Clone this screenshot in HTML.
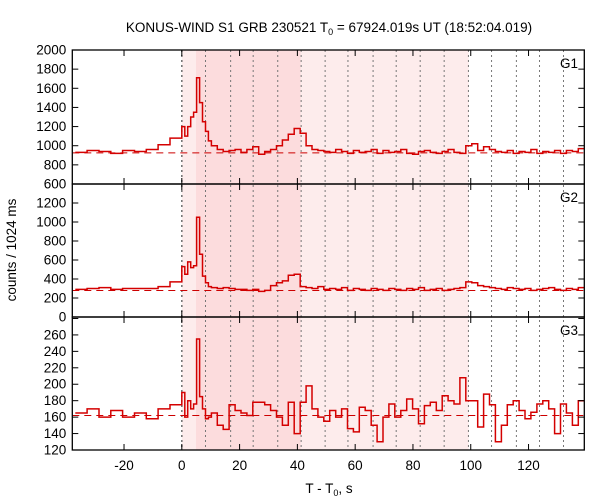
<!DOCTYPE html>
<html><head><meta charset="utf-8"><style>
body{margin:0;background:#fff}
svg{font-family:"Liberation Sans",sans-serif;display:block}
</style></head><body>
<svg id="chart" width="600" height="500">
<text x="329" y="32" text-anchor="middle" font-size="13.5">KONUS-WIND S1 GRB 230521 T<tspan font-size="9" dy="3">0</tspan><tspan dy="-3"> = 67924.019s UT (18:52:04.019)</tspan></text>
<text x="16" y="250" text-anchor="middle" font-size="13.5" transform="rotate(-90 16 250)">counts / 1024 ms</text>
<text x="329" y="493" text-anchor="middle" font-size="13.5">T - T<tspan font-size="9" dy="3">0</tspan><tspan dy="-3">, s</tspan></text>
</svg>
<script>
const xTicks=[-20,0,20,40,60,80,100,120];
const preEdges0=-36.864, preW=4.096, fineW=1.024, coarseStart=10.24, coarseW=2.048;
const g1Pre=[930,950,940,920,950,940,960,1010,1080];
const g1Fine=[1200,1100,1200,1300,1350,1710,1450,1250,1150,1050];
const g1Coarse=[1000,960,940,950,960,930,960,990,910,940,960,1000,1060,1120,1180,1130,1000,960,950,940,930,960,940,920,950,930,940,960,920,950,930,940,960,920,910,940,950,930,920,940,960,930,920,1000,1020,950,990,960,940,930,950,920,940,930,960,920,940,930,950,920,950,940,970];
const g2Pre=[290,300,310,290,300,300,300,320,370];
const g2Fine=[530,450,580,520,540,1050,660,430,360,320];
const g2Coarse=[310,300,310,300,290,290,280,290,270,280,330,360,380,440,450,320,310,300,320,290,300,290,310,280,300,290,280,300,290,280,300,290,280,300,290,310,280,290,300,280,290,300,310,370,360,330,320,310,300,290,310,300,290,300,280,290,300,310,290,280,300,290,310];
const g3Pre=[165,170,160,168,160,165,158,170,175];
const g3Fine=[190,160,180,170,176,255,185,170,158,160];
const g3Coarse=[165,150,145,175,168,165,162,178,178,175,168,160,150,178,140,178,198,170,160,155,168,160,170,146,142,172,168,150,130,160,176,160,168,182,170,152,174,178,168,186,180,176,208,180,180,148,188,175,130,150,175,180,168,158,166,176,180,170,140,176,165,150,180];
const baselines=[925,279,162];
const panelNames=['G1','G2','G3'];
const yMin=[600,0,120], yMax=[2000,1400,281.8], yStep=[200,200,20], yLabMax=[2000,1200,260];
const dotLines=[0,8.2,16.9,24.7,33.2,41.3,49.6,57.5,66.2,74.2,82.5,90.8,99.2,107.2,115.8,123.8,132.1];

const svg=document.getElementById('chart');
const NS='http://www.w3.org/2000/svg';
const X0=72.3,X1=584.3,T0=-37.9,T1=139.3;
const pTop=[50,184,317], pBot=[184,317,450];
function xs(t){return X0+(t-T0)/(T1-T0)*(X1-X0);}
function mk(tag,at,parent){const e=document.createElementNS(NS,tag);for(const k in at)e.setAttribute(k,at[k]);(parent||svg).appendChild(e);return e;}
let r=mk('rect',{x:xs(0),y:50,width:xs(99.3)-xs(0),height:400,fill:'#fdecec'});


r=mk('rect',{x:xs(4.9),y:50,width:xs(41.1)-xs(4.9),height:400,fill:'#fcdcdd'});


dotLines.forEach(t=>{
 const l=mk('line',{x1:xs(t),x2:xs(t),y1:50,y2:450,stroke:'#777','stroke-dasharray':'2,3','stroke-width':t===0?1.6:1});
 
 
});
const data=[[g1Pre,g1Fine,g1Coarse],[g2Pre,g2Fine,g2Coarse],[g3Pre,g3Fine,g3Coarse]];
for(let p=0;p<3;p++){
 const ys=v=>pBot[p]-(v-yMin[p])/(yMax[p]-yMin[p])*(pBot[p]-pTop[p]);
 const g=mk('g',{});
 
 
 const bl=mk('line',{x1:X0,x2:X1,y1:ys(baselines[p]),y2:ys(baselines[p]),stroke:'#c00','stroke-dasharray':'7,5','stroke-width':1},g);
 
 
 const bins=[];
 const [pre,fine,coarse]=data[p];
 pre.forEach((v,i)=>bins.push([preEdges0+i*preW,preEdges0+(i+1)*preW,v]));
 fine.forEach((v,i)=>bins.push([i*fineW,(i+1)*fineW,v]));
 coarse.forEach((v,i)=>bins.push([coarseStart+i*coarseW,Math.min(T1,coarseStart+(i+1)*coarseW),v]));
 let d='';
 bins.forEach((b,i)=>{const a=Math.max(b[0],T0);d+=(i?'L':'M')+xs(a).toFixed(1)+','+ys(b[2]).toFixed(1)+'L'+xs(b[1]).toFixed(1)+','+ys(b[2]).toFixed(1);});
 const pa=mk('path',{d:d,fill:'none',stroke:'#d40000','stroke-width':1.5},g);
 
 
 for(let v=yMin[p];v<=yMax[p]+0.01;v+=yStep[p]){
  const y=ys(v);
  mk('line',{x1:X0,x2:X0+6,y1:y,y2:y,stroke:'#000'},g);
  mk('line',{x1:X1,x2:X1-6,y1:y,y2:y,stroke:'#000'},g);
  if(v<=yLabMax[p]){
   const t=mk('text',{x:X0-6,y:y+4.5,'text-anchor':'end','font-size':13.5},g);t.textContent=v;
   
   
  }
 }
 xTicks.forEach(t=>{const x=xs(t);
  mk('line',{x1:x,x2:x,y1:pTop[p],y2:pTop[p]+6,stroke:'#000'},g);
  mk('line',{x1:x,x2:x,y1:pBot[p],y2:pBot[p]-6,stroke:'#000'},g);});
 const lab=mk('text',{x:578,y:pTop[p]+18,'text-anchor':'end','font-size':13.5},g);lab.textContent=panelNames[p];
 
 
 const fr=mk('rect',{x:X0,y:pTop[p],width:X1-X0,height:pBot[p]-pTop[p],fill:'none',stroke:'#000','stroke-width':1.3},g);
 
 
}
xTicks.forEach(t=>{const tx=mk('text',{x:xs(t),y:470,'text-anchor':'middle','font-size':13.5});tx.textContent=t;
 
 });
</script>
</body></html>
